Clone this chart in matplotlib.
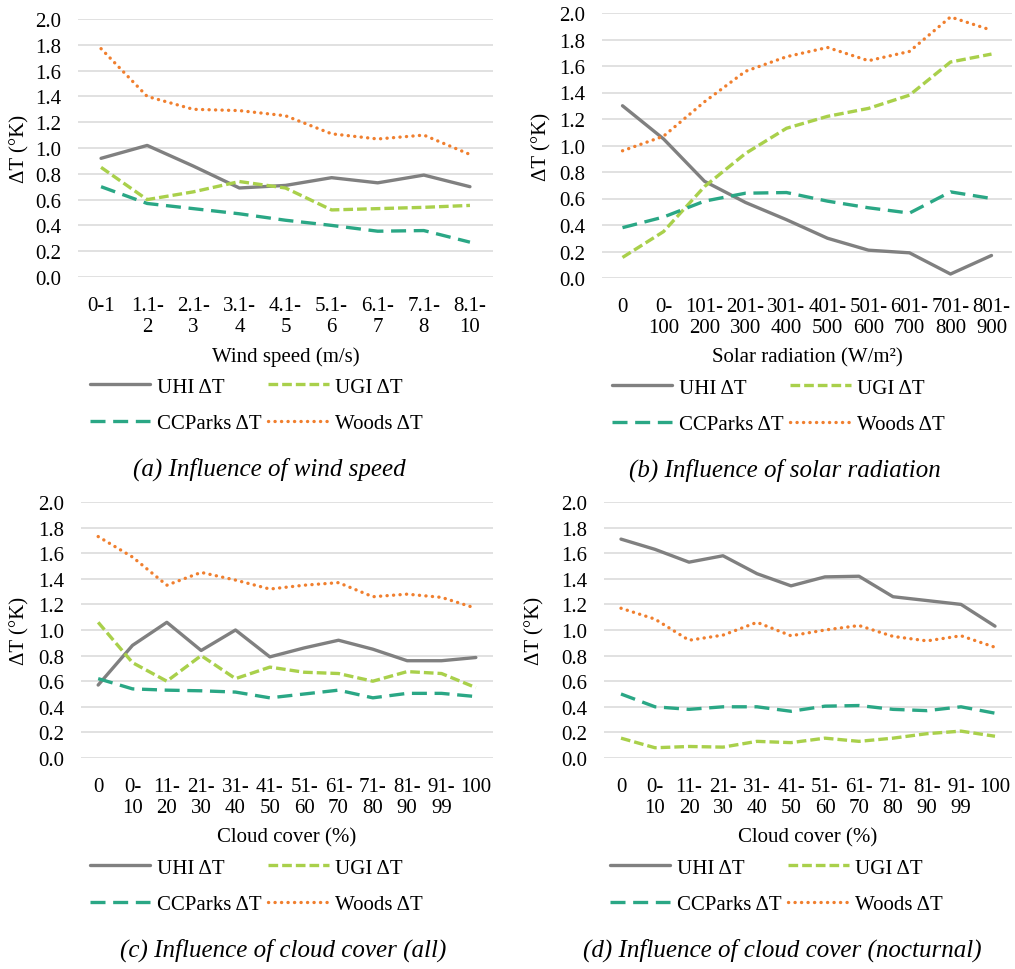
import matplotlib
matplotlib.use("Agg")
import matplotlib.pyplot as plt

plt.rcParams['font.family'] = ['Liberation Serif', 'DejaVu Serif']

W, H = 1015, 970

wind_labels = ["0-1", "1.1-2", "2.1-3", "3.1-4", "4.1-5", "5.1-6", "6.1-7", "7.1-8", "8.1-10"]
wind_uhi = [0.92, 1.02, 0.86, 0.69, 0.71, 0.77, 0.73, 0.79, 0.70]
wind_ugi = [0.85, 0.60, 0.66, 0.74, 0.69, 0.52, 0.53, 0.54, 0.555]
wind_parks = [0.70, 0.57, 0.53, 0.49, 0.44, 0.40, 0.355, 0.36, 0.27]
wind_woods = [1.77, 1.40, 1.30, 1.29, 1.25, 1.11, 1.07, 1.10, 0.95]

solar_labels = ["0", "0-100", "101-200", "201-300", "301-400", "401-500",
                "501-600", "601-700", "701-800", "801-900"]
solar_uhi = [1.30, 1.05, 0.73, 0.57, 0.44, 0.30, 0.21, 0.19, 0.03, 0.17]
solar_ugi = [0.155, 0.35, 0.69, 0.94, 1.13, 1.22, 1.28, 1.38, 1.63, 1.69]
solar_parks = [0.38, 0.46, 0.58, 0.64, 0.645, 0.58, 0.53, 0.49, 0.65, 0.60]
solar_woods = [0.96, 1.07, 1.33, 1.56, 1.67, 1.74, 1.64, 1.71, 1.97, 1.87]

cloud_labels = ["0", "0-10", "11-20", "21-30", "31-40", "41-50", "51-60",
                "61-70", "71-80", "81-90", "91-99", "100"]
cloud_uhi = [0.57, 0.88, 1.06, 0.84, 1.00, 0.79, 0.86, 0.92, 0.85, 0.76, 0.76, 0.785]
cloud_ugi = [1.06, 0.745, 0.60, 0.80, 0.62, 0.71, 0.67, 0.66, 0.60, 0.675, 0.66, 0.55]
cloud_parks = [0.62, 0.54, 0.53, 0.525, 0.515, 0.47, 0.50, 0.53, 0.47, 0.505, 0.505, 0.48]
cloud_woods = [1.73, 1.57, 1.35, 1.45, 1.39, 1.32, 1.35, 1.37, 1.26, 1.28, 1.255, 1.17]

night_uhi = [1.71, 1.63, 1.53, 1.58, 1.44, 1.345, 1.415, 1.42, 1.26, 1.23, 1.20, 1.03]
night_ugi = [0.155, 0.08, 0.09, 0.085, 0.13, 0.12, 0.155, 0.13, 0.155, 0.19, 0.21, 0.17]
night_parks = [0.50, 0.40, 0.38, 0.40, 0.40, 0.365, 0.405, 0.41, 0.38, 0.37, 0.40, 0.35]
night_woods = [1.17, 1.085, 0.92, 0.96, 1.06, 0.955, 1.00, 1.035, 0.95, 0.915, 0.955, 0.865]

y_ticks = [0.0, 0.2, 0.4, 0.6, 0.8, 1.0, 1.2, 1.4, 1.6, 1.8, 2.0]
series_names = ["UHI \u0394T", "UGI \u0394T", "CCParks \u0394T", "Woods \u0394T"]

FS = 15

fig = plt.figure(figsize=(W / 100, H / 100), dpi=100)


def wrap(label):
    # long range labels break after the hyphen
    if '-' in label and len(label) > 3:
        head, tail = label.split('-', 1)
        return head + '-\n' + tail
    return label


def draw_panel(box, labels, uhi, ugi, parks, woods, xlabel, caption,
               ylabel_x, legend_x, caption_x):
    left, top, right, bottom = box
    ax = fig.add_axes([left / W, 1 - bottom / H, (right - left) / W, (bottom - top) / H])
    x = list(range(len(labels)))

    l1, = ax.plot(x, uhi, color="#808080", lw=2.4, solid_capstyle='round', clip_on=False)
    l2, = ax.plot(x, ugi, color="#a9d04b", lw=2.4, linestyle=(0, (2.9, 1.2)), clip_on=False)
    l3, = ax.plot(x, parks, color="#2aa785", lw=2.4, linestyle=(0, (4.5, 2.3)), clip_on=False)
    l4, = ax.plot(x, woods, color="#f07f2e", lw=2.4, linestyle=(0, (0.05, 1.9)),
                  dash_capstyle='round', clip_on=False)

    ax.set_xlim(-0.5, len(labels) - 0.5)
    ax.set_ylim(0, 2)
    ax.set_yticks(y_ticks)
    ax.set_yticklabels([f"{v:.1f}" for v in y_ticks])
    ax.set_xticks(x)
    ax.set_xticklabels([wrap(s) for s in labels], linespacing=1.08)
    ax.tick_params(axis='both', length=0, labelsize=FS)
    ax.tick_params(axis='x', pad=14)
    ax.tick_params(axis='y', pad=12)
    ax.grid(axis='y', color="#d9d9d9", lw=1.1)
    ax.set_axisbelow(True)
    for s in ax.spines.values():
        s.set_visible(False)

    fig.text(ylabel_x / W, 1 - (top + bottom) / 2 / H, "\u0394T (\u00b0K)", rotation=90,
             ha='center', va='center', fontsize=FS)
    fig.text((left + right) / 2 / W, 1 - (bottom + 79) / H, xlabel,
             ha='center', va='center', fontsize=FS)

    ax.legend([l1, l3, l2, l4], [series_names[0], series_names[2], series_names[1], series_names[3]],
              ncol=2, loc='center left', bbox_to_anchor=(legend_x / W, 1 - (bottom + 128) / H),
              bbox_transform=fig.transFigure, frameon=False, fontsize=FS,
              handlelength=2.9, handletextpad=0.33, columnspacing=0.3,
              labelspacing=0.8, borderpad=0, borderaxespad=0)

    fig.text(caption_x / W, 1 - (bottom + 191) / H, caption, ha='center', va='center',
             fontsize=18, style='italic')


draw_panel((78, 20, 493, 278), wind_labels, wind_uhi, wind_ugi, wind_parks, wind_woods,
           "Wind speed (m/s)", "(a) Influence of wind speed", 20, 90, 269)
draw_panel((602, 14, 1012, 279), solar_labels, solar_uhi, solar_ugi, solar_parks, solar_woods,
           "Solar radiation (W/m\u00b2)", "(b) Influence of solar radiation", 542, 612, 785)
draw_panel((81, 503, 493, 759), cloud_labels, cloud_uhi, cloud_ugi, cloud_parks, cloud_woods,
           "Cloud cover (%)", "(c) Influence of cloud cover (all)", 20, 90, 283)
draw_panel((604, 503, 1012, 759), cloud_labels, night_uhi, night_ugi, night_parks, night_woods,
           "Cloud cover (%)", "(d) Influence of cloud cover (nocturnal)", 535, 610, 782)

fig.savefig("out.png", dpi=100)
